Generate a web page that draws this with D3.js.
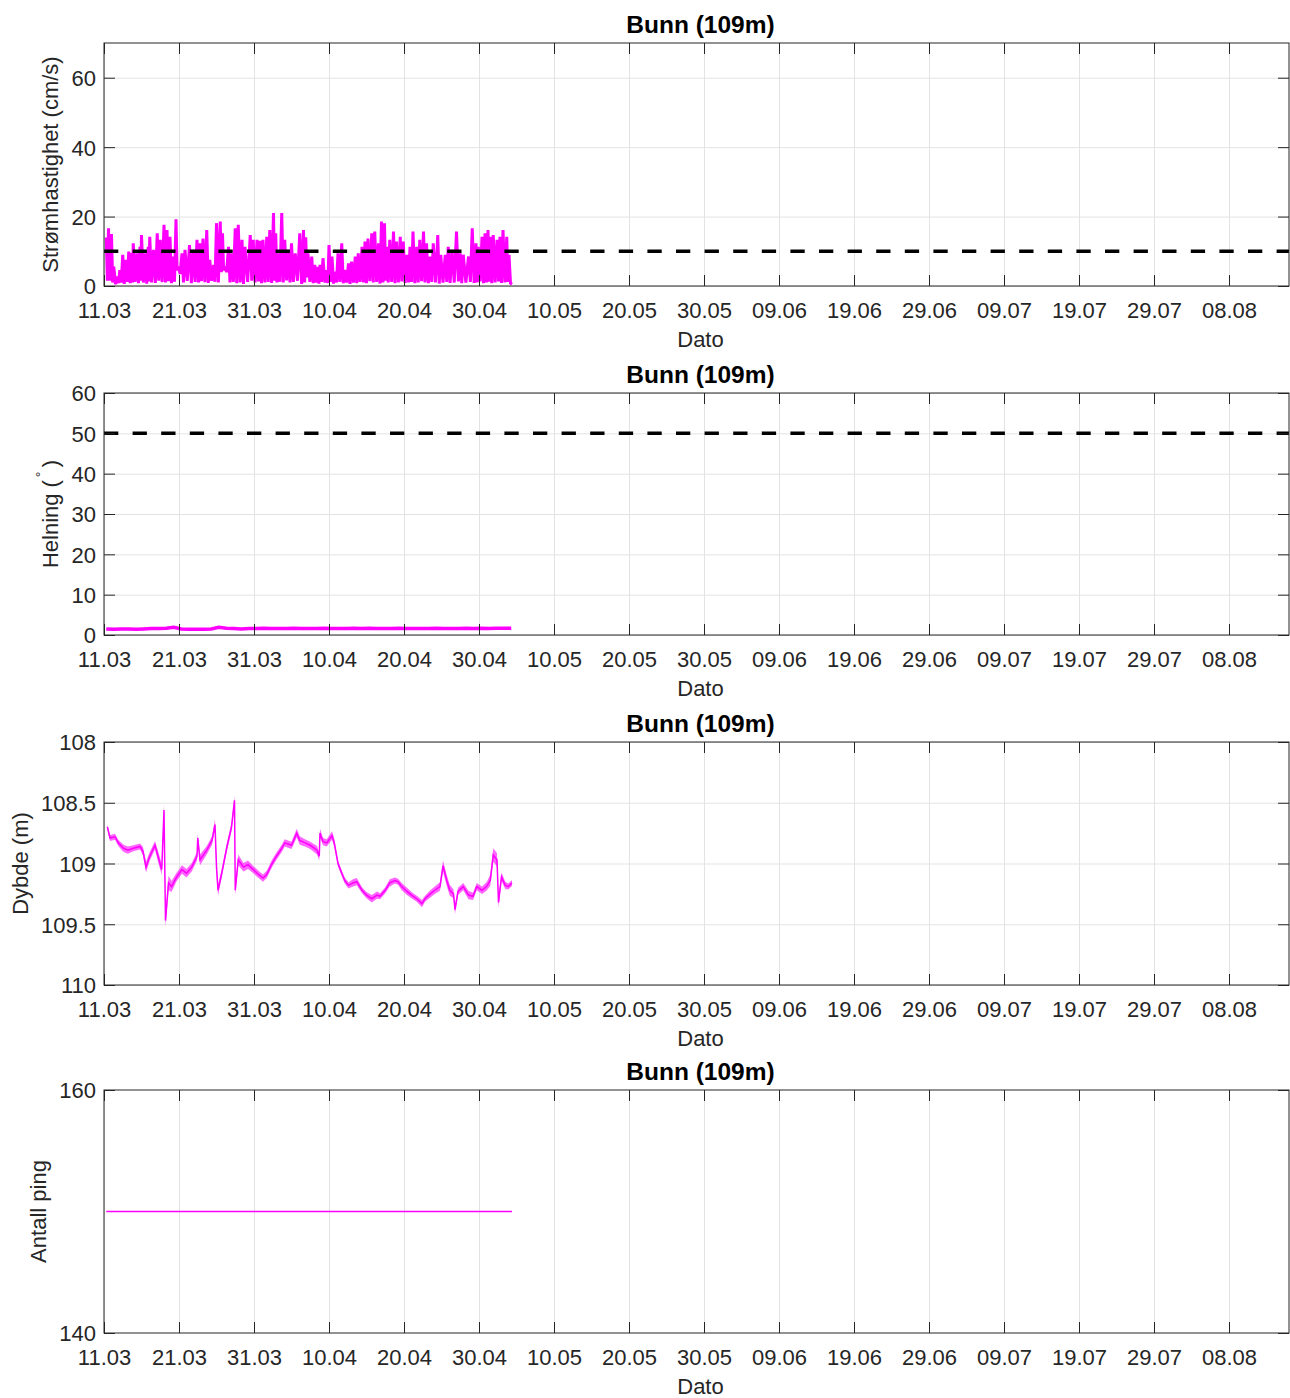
<!DOCTYPE html>
<html><head><meta charset="utf-8">
<script src="https://cdn.jsdelivr.net/npm/d3@7"></script>
<style>
body{margin:0;background:#fff;}
svg{display:block;font-family:"Liberation Sans",Arial,Helvetica,sans-serif;}
</style></head><body>
<svg id="chart" width="1290" height="1398"></svg>
<script>
// ---------------- DATA ----------------
const tickLabels = ["11.03","21.03","31.03","10.04","20.04","30.04","10.05","20.05","30.05","09.06","19.06","29.06","09.07","19.07","29.07","08.08"];
const titleText = "Bunn (109m)";
const xLabelText = "Dato";
const yLabels = ["Strømhastighet (cm/s)", "Helning (", "Dybde (m)", "Antall ping"];

// current speed: local maxima (days after 11.03) and the minima that follow each one
const speedDay = [0.3,0.6,1.0,1.3,1.8,2.1,2.5,2.9,3.3,3.7,
  3.9,4.4,4.8,5.0,5.5,5.9,6.1,6.6,7.1,7.5,
  8.0,8.4,8.8,9.2,9.6,9.9,10.4,10.8,11.4,11.9,
  12.4,12.8,13.2,13.7,14.1,14.6,15.0,15.5,15.8,16.1,
  16.6,17.0,17.5,17.9,18.4,18.8,19.5,19.9,20.4,20.8,
  21.2,21.7,22.1,22.6,22.9,23.2,23.7,24.1,24.6,25.0,
  25.5,26.1,26.6,26.9,27.2,27.7,28.1,28.5,28.8,29.2,
  29.7,30.0,30.4,30.8,31.2,31.7,32.1,32.6,33.0,33.5,
  33.9,34.4,34.8,35.2,35.7,36.1,36.6,37.0,37.4,37.7,
  38.1,38.6,39.0,39.5,39.9,40.4,40.8,41.2,41.7,42.1,
  42.6,43.0,43.5,43.9,44.5,44.9,45.5,45.9,46.4,47.0,
  47.5,47.9,48.6,49.1,49.6,49.9,50.4,50.8,51.2,51.5,
  51.9,52.4,52.8,53.2,53.7,54.0,54.4];
const speedPeak = [14,16.6,15,5.6,2.7,4.6,9,7.5,9.9,9.5,
  12.3,9.4,11.3,14.7,9.4,11.3,14.2,10.4,15.2,13.3,
  17.6,16.1,14.2,8.5,19.2,5.6,9.4,10.4,11.8,10.4,
  13.3,12.3,13.7,16.1,7.5,6.1,18.1,18.6,15.2,5.6,
  11.3,9.4,16.6,17.6,13.3,11.3,14.7,13.3,13.3,13.0,
  13.3,14.2,16.1,21,15.2,9.4,21,13.3,10.4,12.3,
  9.4,15.2,16.1,14,9.4,8.5,6.1,5.5,6.1,8,
  4.6,11.8,8.5,4.1,9.4,12.3,4.6,6.5,7,8.5,
  9.4,11.3,12.8,13.7,15.2,15.7,12.3,18.6,18.1,11.3,
  13.3,15.7,12.8,14.2,12.8,9,11.3,15.7,11.3,13.3,
  15.7,12.3,8.5,12.3,14.7,9,9,11.3,10.4,15.7,
  9.4,9,8.5,16.6,12.3,11.3,14.2,15.2,16.1,14.2,
  14.7,13.3,14.2,16.1,14.2,9,0.5];
const speedLow = [1.5,1.5,1.0,0.5,0.8,1.0,0.6,1.2,0.8,1.0,
  1.2,0.8,1.5,1.0,0.7,1.3,1.0,0.9,1.5,1.1,
  1.0,1.4,0.8,1.2,4.5,3.5,1.0,1.5,0.8,1.2,
  1.0,1.4,1.1,0.9,1.5,1.2,1.0,4.0,4.5,4.0,
  1.0,1.2,0.8,1.0,0.6,1.2,1.5,1.0,1.3,0.8,
  1.0,1.2,0.9,1.5,1.0,1.2,1.0,1.6,1.0,1.2,
  1.5,0.6,1.0,2.5,1.2,0.8,1.0,0.7,1.2,1.0,
  0.8,1.2,0.7,1.0,1.2,0.8,1.0,0.6,1.0,0.8,
  1.2,1.0,0.8,1.4,1.0,1.2,0.7,1.0,1.5,1.0,
  1.2,0.8,1.0,1.3,0.9,1.0,1.2,0.8,1.0,1.4,
  1.0,0.8,1.2,1.0,0.7,1.0,1.2,0.9,1.0,1.3,
  0.8,1.0,1.2,0.9,1.0,1.3,0.8,1.0,1.2,0.8,
  1.0,1.3,0.9,1.0,1.2,0.8];
const speedLimit = 10;

// tilt, one value per day starting at day 0.3
const tiltStartDay = 0.3;
const tiltVal = [1.5,1.4,1.5,1.5,1.4,1.5,1.6,1.6,1.7,1.9,
  1.5,1.4,1.4,1.4,1.5,1.9,1.7,1.6,1.5,1.6,
  1.6,1.7,1.6,1.6,1.6,1.7,1.6,1.6,1.6,1.7,
  1.6,1.6,1.6,1.7,1.6,1.7,1.6,1.6,1.6,1.7,
  1.6,1.6,1.6,1.6,1.7,1.6,1.6,1.6,1.7,1.6,
  1.7,1.6,1.7,1.7,1.7];
const tiltLimit = 50;

// depth
const depthDay = [0.45,0.8,1.47,1.9,2.6,3.2,3.9,4.8,5.2,5.6,
  6.1,6.8,7.2,7.7,8.0,8.2,8.6,9.0,9.7,10.4,
  11.0,11.7,12.4,12.5,12.8,13.7,14.4,14.8,15.0,15.2,
  15.7,16.4,17.0,17.4,17.5,17.9,18.6,19.2,19.9,20.6,
  21.2,21.7,22.4,23.0,23.7,24.1,25.0,25.7,26.1,26.8,
  27.5,28.4,28.7,28.8,29.2,29.7,30.4,30.7,31.2,31.7,
  32.1,32.6,33.2,33.7,34.4,35.0,35.7,36.4,36.8,37.5,
  38.1,38.8,39.2,39.7,40.4,41.0,41.7,42.4,42.8,43.5,
  44.1,44.8,45.2,45.7,46.1,46.6,46.8,47.2,47.9,48.6,49.2,
  49.7,50.4,51.0,51.5,51.9,52.4,52.6,53.0,53.5,53.9,
  54.4];
const depthVal = [108.70,108.79,108.78,108.83,108.875,108.89,108.875,108.86,108.90,109.03,
  108.94,108.85,108.94,109.05,108.56,109.47,109.16,109.19,109.11,109.05,
  109.08,109.03,108.94,108.79,108.97,108.89,108.81,108.68,109.03,109.22,
  109.08,108.86,108.70,108.48,109.22,108.97,109.03,109.01,109.05,109.09,
  109.12,109.09,109.00,108.94,108.875,108.83,108.85,108.75,108.81,108.83,
  108.85,108.89,108.94,108.75,108.82,108.83,108.77,108.83,109.00,109.08,
  109.14,109.18,109.16,109.15,109.22,109.26,109.29,109.26,109.27,109.22,
  109.16,109.14,109.15,109.19,109.23,109.26,109.29,109.33,109.29,109.25,
  109.22,109.19,109.02,109.14,109.22,109.25,109.38,109.23,109.19,109.26,109.27,
  109.19,109.22,109.19,109.14,108.93,108.97,109.32,109.11,109.18,109.19,
  109.16];
const depthNoise = [.02,.025,.025,.025,.03,.03,.025,.025,.035,.045,
  .035,.035,.045,.045,.05,.05,.06,.045,.035,.035,
  .035,.035,.035,.035,.045,.035,.035,.045,.045,.045,
  .035,.035,.035,.035,.045,.045,.035,.035,.03,.03,
  .03,.03,.03,.03,.03,.03,.03,.035,.035,.03,
  .03,.035,.035,.035,.03,.03,.035,.035,.025,.025,
  .025,.025,.03,.03,.025,.025,.03,.03,.025,.025,
  .03,.025,.025,.03,.03,.025,.025,.03,.025,.03,
  .03,.035,.045,.045,.045,.035,.035,.03,.03,.035,.03,
  .03,.03,.035,.045,.055,.055,.045,.035,.03,.025,
  .025];

// ping count
const pingDay = [0.3, 54.4];
const pingVal = [150, 150];

// ---------------- LAYOUT ----------------
const svg = d3.select("#chart");
const L = 104, R = 1289;
const magenta = "#ff00ff", axisCol = "#262626", gridCol = "#e3e3e3", textCol = "#262626";
const fontFam = '"Liberation Sans",Arial,Helvetica,sans-serif';
const startMs = Date.UTC(2023, 2, 11), endMs = Date.UTC(2023, 7, 16);
const toDate = d => new Date(startMs + d * 864e5);
const tickDates = tickLabels.map(s => { const [dd, mm] = s.split(".").map(Number); return new Date(Date.UTC(2023, mm - 1, dd)); });
const x = d3.scaleUtc().domain([new Date(startMs), new Date(endMs)]).range([L, R]);

const panels = [
  {top: 43, bottom: 286, domain: [0, 70], ticks: [0, 20, 40, 60], labelX: 58, ygrid: true},
  {top: 393, bottom: 635, domain: [0, 60], ticks: [0, 10, 20, 30, 40, 50, 60], labelX: 58, ygrid: true},
  {top: 742, bottom: 985, domain: [108, 110], ticks: [108, 108.5, 109, 109.5, 110], labelX: 28, ygrid: true, reversed: true},
  {top: 1090, bottom: 1333, domain: [140, 160], ticks: [140, 160], labelX: 46, ygrid: false}
];

panels.forEach((p, i) => {
  const g = svg.append("g");
  const y = d3.scaleLinear().domain(p.domain).range(p.reversed ? [p.top, p.bottom] : [p.bottom, p.top]);
  const h = p.bottom - p.top;
  const clipId = "clip" + i;
  svg.append("clipPath").attr("id", clipId).append("rect")
    .attr("x", L).attr("y", p.top).attr("width", R - L).attr("height", h);

  // grid
  const gx = g.append("g").attr("transform", `translate(0,${p.bottom})`)
    .call(d3.axisBottom(x).tickValues(tickDates).tickSize(-h).tickFormat(""));
  gx.select(".domain").remove();
  gx.selectAll("line").attr("stroke", gridCol);
  if (p.ygrid) {
    const gy = g.append("g").attr("transform", `translate(${L},0)`)
      .call(d3.axisLeft(y).tickValues(p.ticks).tickSize(-(R - L)).tickFormat(""));
    gy.select(".domain").remove();
    gy.selectAll("line").attr("stroke", gridCol);
  }

  // data
  const dg = g.append("g").attr("clip-path", `url(#${clipId})`);
  const line = d3.line().x(d => x(toDate(d[0]))).y(d => y(d[1]));
  if (i === 0) {
    const pts = [];
    speedDay.forEach((d, k) => {
      pts.push([d, speedPeak[k]]);
      if (k < speedDay.length - 1) pts.push([(d + speedDay[k + 1]) / 2, speedLow[k]]);
    });
    dg.append("path").datum(pts).attr("d", line)
      .attr("fill", "none").attr("stroke", magenta).attr("stroke-width", 3)
      .attr("stroke-linejoin", "miter").attr("stroke-miterlimit", 2);
    dg.append("line").attr("x1", L).attr("x2", R).attr("y1", y(speedLimit)).attr("y2", y(speedLimit))
      .attr("stroke", "#000").attr("stroke-width", 3.5).attr("stroke-dasharray", "14.3,14.3");
  } else if (i === 1) {
    const pts = tiltVal.map((v, k) => [tiltStartDay + k, v]);
    dg.append("path").datum(pts).attr("d", line)
      .attr("fill", "none").attr("stroke", magenta).attr("stroke-width", 3.5);
    dg.append("line").attr("x1", L).attr("x2", R).attr("y1", y(tiltLimit)).attr("y2", y(tiltLimit))
      .attr("stroke", "#000").attr("stroke-width", 3.5).attr("stroke-dasharray", "14.3,14.3");
  } else if (i === 2) {
    const pts = depthDay.map((d, k) => [d, depthVal[k], depthNoise[k]]);
    dg.append("path").datum(pts)
      .attr("d", d3.area().x(d => x(toDate(d[0]))).y0(d => y(d[1] - d[2])).y1(d => y(d[1] + d[2])))
      .attr("fill", magenta).attr("opacity", 0.6);
    dg.append("path").datum(pts).attr("d", line)
      .attr("fill", "none").attr("stroke", magenta).attr("stroke-width", 1.5);
  } else {
    // flat series drawn as a thin band (no clip, so a zero-height path renders reliably)
    g.append("line")
      .attr("x1", x(toDate(pingDay[0]))).attr("x2", x(toDate(pingDay[1])))
      .attr("y1", y(pingVal[0])).attr("y2", y(pingVal[1]))
      .attr("stroke", magenta).attr("stroke-width", 1.5).style("stroke", magenta);
  }

  // axes with inward ticks on all four sides
  const tk = 11;
  const ax = g.append("g").attr("transform", `translate(0,${p.bottom})`)
    .call(d3.axisBottom(x).tickValues(tickDates).tickSizeInner(-tk).tickSizeOuter(0).tickPadding(16)
      .tickFormat((d, k) => tickLabels[k]));
  const axT = g.append("g").attr("transform", `translate(0,${p.top})`)
    .call(d3.axisTop(x).tickValues(tickDates).tickSizeInner(-tk).tickSizeOuter(0).tickFormat(""));
  const ay = g.append("g").attr("transform", `translate(${L},0)`)
    .call(d3.axisLeft(y).tickValues(p.ticks).tickSizeInner(-tk).tickSizeOuter(0).tickPadding(8)
      .tickFormat(d => String(d)));
  const ayR = g.append("g").attr("transform", `translate(${R},0)`)
    .call(d3.axisRight(y).tickValues(p.ticks).tickSizeInner(-tk).tickSizeOuter(0).tickFormat(""));
  [ax, axT, ay, ayR].forEach(a => {
    a.select(".domain").remove();
    a.selectAll("line").attr("stroke", axisCol);
    a.selectAll("text").attr("fill", textCol).style("font-size", "22px").style("font-family", fontFam);
  });
  ay.selectAll("text").attr("dy", "0.36em");

  g.append("rect").attr("x", L).attr("y", p.top).attr("width", R - L).attr("height", h)
    .attr("fill", "none").attr("stroke", axisCol).attr("stroke-width", 1);

  // title
  g.append("text").attr("x", (L + R) / 2 + 4).attr("y", p.top - 10).attr("text-anchor", "middle")
    .style("font-size", "24.5px").style("font-weight", "bold").attr("fill", "#000").text(titleText);
  // x label
  g.append("text").attr("x", (L + R) / 2 + 4).attr("y", p.bottom + 61).attr("text-anchor", "middle")
    .style("font-size", "22px").attr("fill", textCol).text(xLabelText);
  // y label
  const yl = g.append("text").attr("transform", `translate(${p.labelX},${(p.top + p.bottom) / 2}) rotate(-90)`)
    .attr("text-anchor", "middle").style("font-size", "22px").attr("fill", textCol);
  if (i === 1) {
    yl.append("tspan").text(yLabels[1]);
    yl.append("tspan").attr("dy", -12).style("font-size", "14px").text("\u2009°");
    yl.append("tspan").attr("dy", 12).text("\u2009)");
  } else {
    yl.text(yLabels[i]);
  }
});
</script>
</body></html>
